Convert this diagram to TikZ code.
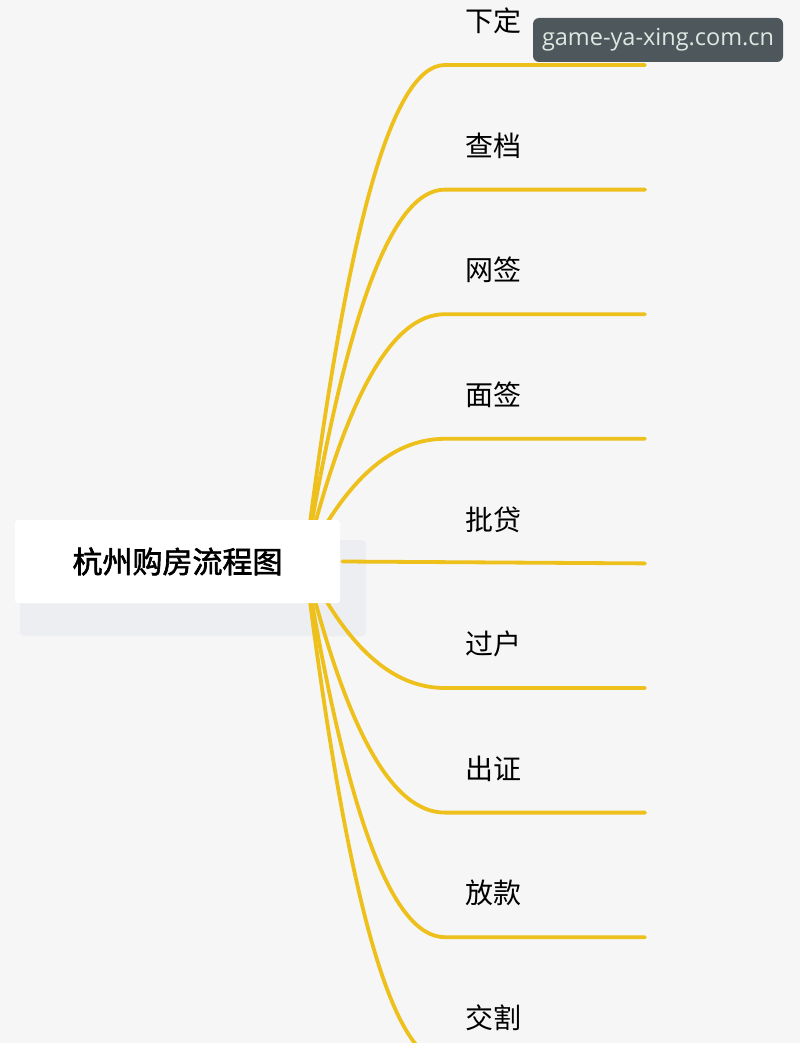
\documentclass[tikz,border=0pt]{standalone}
\usepackage{fontspec}
\newfontfamily\cjk{Noto Sans CJK SC}
\newfontfamily\cjkroot[FakeBold=2]{Noto Sans CJK SC}
\newfontfamily\wmfont{Open Sans}
\definecolor{bg}{HTML}{F6F6F6}
\definecolor{branchc}{HTML}{EEC01C}
\definecolor{shadowc}{HTML}{ECEEF1}
\definecolor{wmbg}{HTML}{4E585C}
\definecolor{wmtext}{HTML}{DDE8E2}
\begin{document}
\begin{tikzpicture}[x=1pt,y=-1pt,
  branch/.style={draw=branchc, line width=3.8pt, line cap=round},
  leaf/.style={anchor=west, font=\cjk\fontsize{28}{30}\selectfont, text=black, inner sep=0pt},
  rootbox/.style={fill=white, rounded corners=3pt, minimum width=325pt, minimum height=83pt, inner sep=0pt, font=\cjkroot\fontsize{30}{34}\selectfont},
  wmbox/.style={fill=wmbg, rounded corners=6pt, minimum width=250pt, minimum height=44pt, inner sep=0pt, text=wmtext, font=\wmfont\fontsize{23.5}{26}\selectfont}
]
\fill[bg] (0,0) rectangle (800,1043);
\useasboundingbox (0,0) rectangle (800,1043);
% soft shadow of the root box
\fill[shadowc, rounded corners=4pt] (20,540) rectangle (366,636);
\coordinate (hub) at (305,562);
\foreach \lab [count=\i from 0] in {下定,查档,网签,面签,批贷,过户,出证,放款,交割} {
  \pgfmathsetmacro\yy{65+124.6*\i}
  \pgfmathsetmacro\cy{562+2/3*(\yy-562)}
  \coordinate (s\i) at (445,\yy);
  \coordinate (e\i) at (645,\yy);
  \node[leaf] (l\i) at (465,\yy-44) {\lab};
  \ifnum\i=4\relax
  \else
    \draw[branch] (hub) .. controls (346.3,\cy) and (391.3,\yy) .. (s\i) -- (e\i);
  \fi
}
\node[rootbox] (root) at (177.5,561.5) {杭州购房流程图};
\draw[branch] (root.east) ++(2,0) coordinate (m0) (m0) -- (e4);
\node[wmbox] (wm) at (658,40) {game-ya-xing.com.cn};
\end{tikzpicture}
\end{document}
